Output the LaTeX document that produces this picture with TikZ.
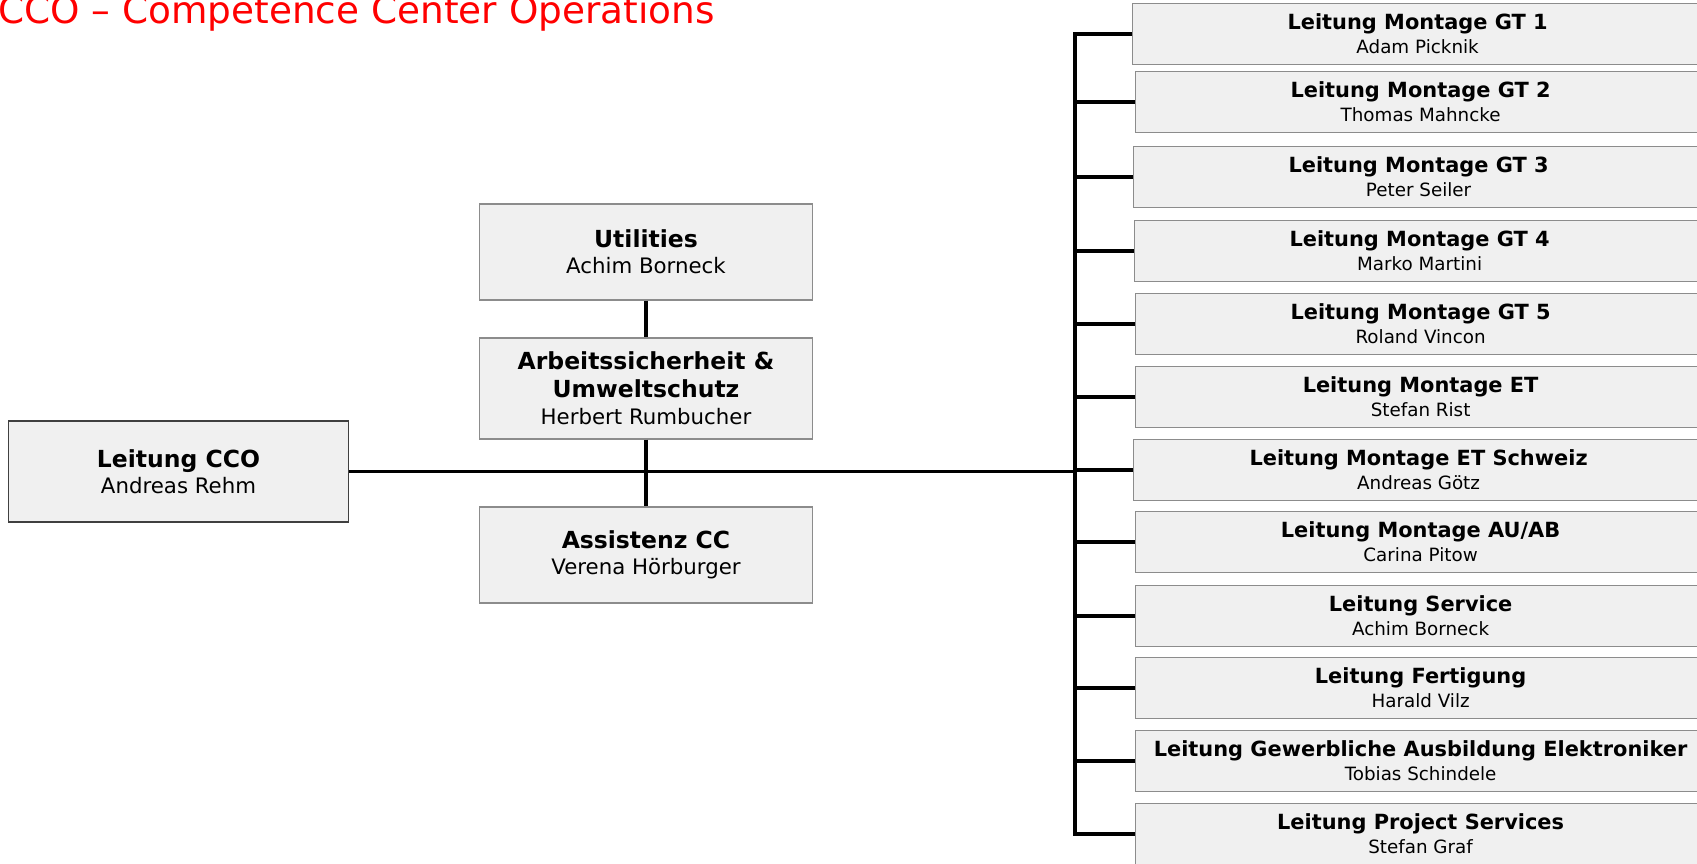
\documentclass[tikz,border=0pt]{standalone}
\usepackage{fontspec}
\setmainfont{DejaVu Sans}
\usepackage{xcolor}
\usepackage{tikz}
\usetikzlibrary{positioning}
\definecolor{boxfill}{HTML}{F0F0F0}
\definecolor{boxline}{HTML}{8C8C8C}
\definecolor{headline}{HTML}{FF0000}
\newcommand{\bighead}[1]{{\fontsize{23.5}{26}\selectfont\bfseries #1}}
\newcommand{\subhead}[1]{{\fontsize{20.9}{24}\selectfont\bfseries #1}}

\begin{document}
\begin{tikzpicture}[x=1pt,y=-1pt]
	\useasboundingbox (0,0) rectangle (1697,863);
	\tikzstyle{unit}=[draw=boxline,fill=boxfill,line width=1.2pt,inner sep=0pt,align=center]
	\tikzstyle{bigunit}=[unit,minimum width=333pt,font=\fontsize{21.3}{26}\selectfont]
	\tikzstyle{subunit}=[unit,anchor=west,minimum width=570pt,minimum height=61pt,font=\fontsize{18.3}{24}\selectfont]
	\tikzstyle{link}=[line width=3.6pt]
	% title
	\node[anchor=base west,inner sep=0pt,text=headline,font=\fontsize{37.4}{44}\selectfont](title) at (-2,23) {CCO – Competence Center Operations};
	% head and staff units
	\node[bigunit,draw=black!75,minimum width=340pt,minimum height=101pt](cco) at (178.5,471.5) {\bighead{Leitung CCO}\\Andreas Rehm};
	\node[bigunit,minimum height=96pt](util) at (646,252) {\bighead{Utilities}\\Achim Borneck};
	\node[bigunit,minimum height=101pt,font=\fontsize{21.3}{27.5}\selectfont](asu) at (646,388.5) {\bighead{Arbeitssicherheit \&}\\\bighead{Umweltschutz}\\Herbert Rumbucher};
	\node[bigunit,minimum height=96pt](assist) at (646,555) {\bighead{Assistenz CC}\\Verena Hörburger};
	% line units
	\node[subunit](m1) at (1132,34) {\subhead{Leitung Montage GT 1}\\Adam Picknik};
	\node[subunit](m2) at (1135,102) {\subhead{Leitung Montage GT 2}\\Thomas Mahncke};
	\node[subunit](m3) at (1133,177) {\subhead{Leitung Montage GT 3}\\Peter Seiler};
	\node[subunit](m4) at (1134,251) {\subhead{Leitung Montage GT 4}\\Marko Martini};
	\node[subunit](m5) at (1135,324) {\subhead{Leitung Montage GT 5}\\Roland Vincon};
	\node[subunit](m6) at (1135,397) {\subhead{Leitung Montage ET}\\Stefan Rist};
	\node[subunit](m7) at (1133,470) {\subhead{Leitung Montage ET Schweiz}\\Andreas Götz};
	\node[subunit](m8) at (1135,542) {\subhead{Leitung Montage AU/AB}\\Carina Pitow};
	\node[subunit](m9) at (1135,616) {\subhead{Leitung Service}\\Achim Borneck};
	\node[subunit](m10) at (1135,688) {\subhead{Leitung Fertigung}\\Harald Vilz};
	\node[subunit](m11) at (1135,761) {\subhead{Leitung Gewerbliche Ausbildung Elektroniker}\\Tobias Schindele};
	\node[subunit](m12) at (1135,834) {\subhead{Leitung Project Services}\\Stefan Graf};
	% connectors
	\coordinate(bustop) at (1075,34);
	\coordinate(busbot) at (1075,834);
	\draw[link](util) -- (asu);
	\draw[link](asu) -- (assist);
	\draw[link](cco.east) -- (cco.east -| bustop);
	\draw[link](m1.west) -- (bustop) -- (busbot) -- (m12.west);
	\draw[link](m2.west) -- (m2.west -| bustop);
	\draw[link](m3.west) -- (m3.west -| bustop);
	\draw[link](m4.west) -- (m4.west -| bustop);
	\draw[link](m5.west) -- (m5.west -| bustop);
	\draw[link](m6.west) -- (m6.west -| bustop);
	\draw[link](m7.west) -- (m7.west -| bustop);
	\draw[link](m8.west) -- (m8.west -| bustop);
	\draw[link](m9.west) -- (m9.west -| bustop);
	\draw[link](m10.west) -- (m10.west -| bustop);
	\draw[link](m11.west) -- (m11.west -| bustop);
\end{tikzpicture}
\end{document}
